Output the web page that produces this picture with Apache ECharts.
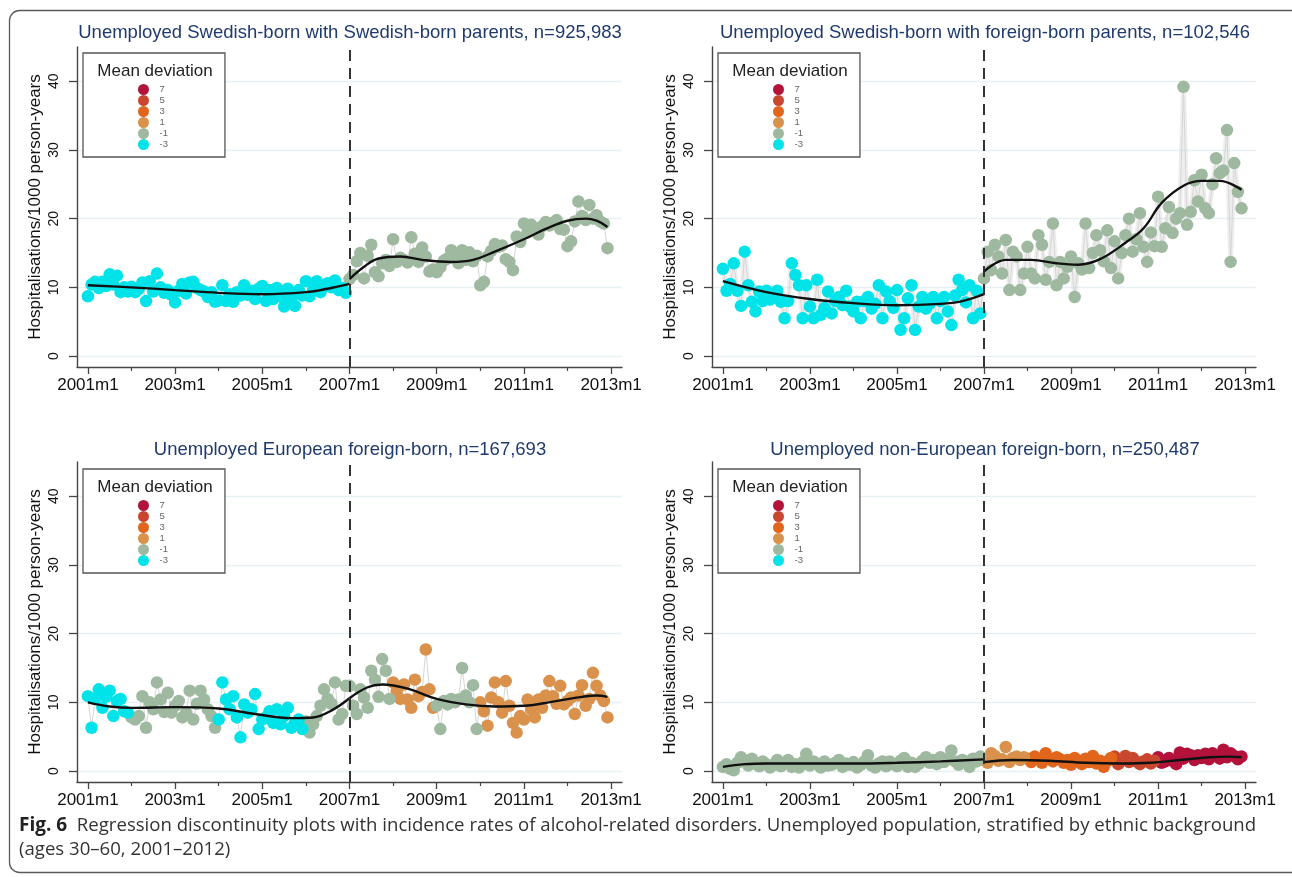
<!DOCTYPE html>
<html><head><meta charset="utf-8">
<script src="https://cdn.jsdelivr.net/npm/echarts@6/dist/echarts.min.js"></script>
<style>html,body{margin:0;padding:0;background:#fff}#c{width:1292px;height:877px}</style>
</head><body><div id="c"></div>
<script>
// ---------- tick labels / categories ----------
const tickLabels = ['2001m1','2003m1','2005m1','2007m1','2009m1','2011m1','2013m1'];
const tickMonths = [0,24,48,72,96,120,144];
const minorMonths = [12,36,60,84,108,132];
const yTicks = [0,10,20,30,40];
const cutoffMonth = 72;
const devLevels = ['7','5','3','1','-1','-3'];
const devColors = ['#b3123b','#c9472e','#e1661c','#d9914b','#9eb99f','#00e3e8'];
const yName = 'Hospitalisations/1000 person-years';
const panelTitles = [
  'Unemployed Swedish-born with Swedish-born parents, n=925,983',
  'Unemployed Swedish-born with foreign-born parents, n=102,546',
  'Unemployed European foreign-born, n=167,693',
  'Unemployed non-European foreign-born, n=250,487'
];

// ---------- panel 1: Swedish-born, Swedish-born parents ----------
const tlValues = [
 8.7,10.4,10.8,9.9,10.8,10.2,11.9,10.4,11.7,9.3,10.0,9.4,
 10.1,9.3,9.8,10.7,8.0,10.9,9.4,12.0,10.0,9.2,9.6,8.9,
 7.8,9.5,10.5,9.1,10.7,10.8,9.9,9.6,9.4,8.6,9.3,7.9,
 8.1,10.3,8.0,9.0,7.9,9.3,8.8,10.3,8.9,9.5,8.3,9.8,
 10.2,8.0,9.6,8.3,9.9,8.7,7.2,9.8,8.3,7.3,9.6,8.8,
 10.9,8.7,9.6,10.9,9.3,10.1,10.6,10.0,11.0,9.6,9.9,9.2,
 11.2,11.8,13.8,15.0,11.3,14.6,16.2,12.2,11.6,13.5,14.0,13.1,
 17.0,13.7,14.3,14.0,13.6,17.3,14.9,13.7,15.8,14.5,12.3,12.6,
 12.2,12.9,13.9,14.2,15.4,14.5,13.5,15.4,14.0,15.1,13.8,14.6,
 10.3,10.8,14.5,15.3,16.3,15.9,16.1,14.1,13.7,12.5,17.4,16.6,
 19.3,18.0,19.1,18.6,17.7,18.9,19.5,19.0,19.4,19.8,18.5,18.4,
 16.0,16.7,19.6,22.5,20.4,19.8,22.0,20.0,20.5,19.6,19.3,15.7];
const tlYearDev = ['-3','-3','-3','-3','-3','-3','-1','-1','-1','-1','-1','-1'];
const tlFitPre = [[0,10.3],[12,10.0],[24,9.6],[36,9.2],[48,9.0],[60,9.3],[66,9.8],[72,10.5]];
const tlFitPost = [[72,11.2],[76,13.0],[80,14.2],[86,14.5],[92,14.0],[100,13.7],[106,14.0],[112,15.2],[120,17.0],[126,18.5],[132,19.7],[137,20.0],[140,19.7],[143,18.8]];

// ---------- panel 2: Swedish-born, foreign-born parents ----------
const trValues = [
 12.7,9.5,10.5,13.5,9.5,7.3,15.2,10.3,7.9,6.5,9.4,8.0,
 9.5,8.2,9.0,9.5,7.9,5.5,8.0,13.5,11.8,10.3,5.5,10.3,
 7.2,5.5,11.1,6.0,7.0,9.4,6.2,8.0,8.6,7.4,9.5,7.2,
 6.5,7.9,5.5,8.0,8.6,6.9,7.6,10.3,5.5,9.4,8.0,7.0,
 9.6,3.8,5.5,8.4,10.3,3.8,7.2,8.6,6.9,7.6,8.6,5.5,
 8.0,8.6,6.5,4.5,8.8,11.1,9.6,7.8,10.3,5.5,9.5,6.2,
 11.3,15.2,12.5,16.2,14.5,12.0,16.9,9.6,15.2,14.5,9.6,12.0,
 15.9,12.0,11.3,17.6,16.2,11.1,13.7,19.3,10.3,13.7,11.3,13.0,
 14.5,8.6,13.5,12.6,19.3,12.8,15.0,17.6,15.4,13.8,18.3,12.8,
 16.7,11.3,15.0,17.6,20.0,15.2,17.0,20.8,15.9,13.7,18.0,16.0,
 23.2,15.9,18.6,21.7,17.9,20.0,20.8,39.2,19.1,21.0,25.6,22.5,
 26.4,21.5,20.8,25.0,28.8,26.6,27.0,32.9,13.7,28.1,23.9,21.5];
const trYearDev = ['-3','-3','-3','-3','-3','-3','-1','-1','-1','-1','-1','-1'];
const trFitPre = [[0,10.9],[12,9.3],[24,8.3],[36,7.7],[48,7.4],[60,7.6],[66,8.0],[72,9.0]];
const trFitPost = [[72,12.3],[78,14.0],[85,14.0],[92,13.5],[98,13.3],[104,14.1],[111,16.5],[116,18.6],[121,22.3],[127,24.8],[132,25.5],[137,25.5],[143,24.2]];

// ---------- panel 3: European foreign-born ----------
const blValues = [
 10.9,6.3,10.6,11.9,9.2,10.8,11.7,8.0,10.2,10.5,8.7,8.5,
 7.8,7.5,8.0,10.9,6.3,10.0,9.0,12.9,10.4,8.6,11.4,8.5,
 9.5,10.2,7.8,8.5,11.7,7.5,9.8,11.7,10.4,9.0,8.0,6.3,
 7.5,12.9,10.4,9.0,10.9,7.8,4.9,9.7,8.5,9.0,11.2,6.1,
 7.5,7.8,8.7,7.0,9.0,6.8,8.0,9.2,6.3,7.0,7.5,6.1,
 7.2,5.6,6.8,8.0,9.5,11.9,10.5,9.8,12.9,7.5,8.3,12.4,
 12.4,9.5,8.3,11.9,10.7,9.2,14.6,13.3,10.8,16.3,14.6,10.5,
 12.9,11.7,10.5,12.6,10.4,9.2,13.3,10.9,11.5,17.7,11.9,9.2,
 9.5,6.1,10.2,9.7,10.5,10.0,10.4,15.0,11.0,10.0,12.5,6.1,
 10.0,8.7,6.6,10.7,12.9,10.0,8.5,13.1,9.5,7.0,5.6,8.0,
 7.5,10.4,9.0,7.8,10.4,9.2,11.0,13.1,10.9,9.8,12.4,9.7,
 10.2,10.7,8.3,11.0,12.5,9.5,10.5,14.3,12.4,11.0,10.2,7.8];
const blYearDev = ['-3','-1','-1','-3','-3','-1','-1','1','-1','1','1','1'];
const blFitPre = [[0,10.0],[6,9.4],[12,9.2],[24,9.3],[36,9.1],[46,8.3],[56,7.7],[62,7.8],[67,8.8],[72,10.6]];
const blFitPost = [[72,10.6],[77,12.2],[81,12.6],[88,12.0],[96,10.5],[104,9.7],[112,9.4],[120,9.5],[128,10.1],[136,10.8],[140,11.0],[143,10.8]];

// ---------- panel 4: non-European foreign-born ----------
const brValues = [
 0.6,1.0,0.3,0.1,1.2,2.0,1.5,0.8,1.8,1.1,0.7,1.4,
 1.0,0.5,0.9,1.6,0.7,1.2,1.6,0.6,1.0,0.5,1.3,2.5,
 0.8,1.4,1.0,0.5,1.4,0.8,0.9,1.2,1.6,0.6,1.1,0.9,
 1.3,0.5,0.9,1.4,2.3,0.8,0.5,1.1,1.4,0.7,1.4,1.0,
 0.7,1.5,1.9,0.6,1.2,0.6,1.0,1.5,2.0,1.2,1.6,1.0,
 2.0,1.3,1.7,3.0,1.4,0.9,1.6,1.4,0.6,1.8,1.4,2.1,
 1.6,1.2,2.6,2.2,1.5,1.7,3.5,1.3,1.9,2.1,1.6,2.0,
 1.8,1.3,2.1,1.7,1.2,2.6,1.8,1.4,2.0,1.7,1.2,1.6,
 0.9,1.9,1.4,1.0,1.8,1.3,2.2,1.1,1.5,0.6,1.4,1.9,
 2.1,1.0,1.6,2.2,1.3,1.9,1.4,1.0,1.4,1.7,1.1,1.5,
 2.0,1.2,1.4,1.9,1.5,1.0,2.7,1.8,2.5,2.3,1.6,2.3,
 1.9,2.5,1.7,2.6,2.2,1.8,3.1,2.0,2.6,2.2,1.7,2.1];
const brYearDev = ['-1','-1','-1','-1','-1','-1','1','3','3','5','7','7'];
const brFitPre = [[0,0.6],[6,1.0],[12,1.1],[24,1.1],[36,1.1],[48,1.2],[60,1.4],[72,1.7]];
const brFitPost = [[72,1.3],[80,1.6],[90,1.5],[100,1.2],[110,1.1],[118,1.2],[126,1.6],[134,2.0],[140,2.1],[143,2.0]];

// ---------- layout (positions / styles only) ----------
const FONT = '"Liberation Sans", Arial, sans-serif';
const CAPFONT = '"Open Sans", "Noto Sans", sans-serif';
const panels = [
  {values: tlValues, dev: tlYearDev, pre: tlFitPre, post: tlFitPost, grid:{left:77, top:47, width:545, height:320}, titleX:350, titleY:33, box:{x:83, y:53}, band:false},
  {values: trValues, dev: trYearDev, pre: trFitPre, post: trFitPost, grid:{left:712, top:47, width:544, height:320}, titleX:985, titleY:33, box:{x:718, y:53}, band:true},
  {values: blValues, dev: blYearDev, pre: blFitPre, post: blFitPost, grid:{left:77, top:462, width:545, height:320}, titleX:350, titleY:450, box:{x:83, y:469}, band:false},
  {values: brValues, dev: brYearDev, pre: brFitPre, post: brFitPost, grid:{left:712, top:462, width:544, height:320}, titleX:985, titleY:450, box:{x:718, y:469}, band:false}
];

const axisColor = '#454545';
const grids = [], xAxes = [], yAxes = [], series = [], legends = [], graphics = [];

graphics.push({type:'rect', silent:true, z:-10, shape:{x:9.5, y:10.5, width:1320, height:862, r:10}, style:{fill:'none', stroke:'#5a5a5a', lineWidth:1.3}});

panels.forEach((p, g) => {
  grids.push(Object.assign({containLabel:false}, p.grid));
  xAxes.push({
    type:'value', gridIndex:g, min:-3, max:147, position:'bottom',
    axisLine:{show:true, onZero:false, lineStyle:{color:axisColor, width:1.4}},
    axisTick:{show:true, customValues:tickMonths, length:7, lineStyle:{color:axisColor, width:1.3}},
    axisLabel:{customValues:tickMonths, formatter:(v)=>tickLabels[tickMonths.indexOf(v)], fontSize:17, color:'#111', margin:10, fontFamily:FONT},
    splitLine:{show:false}
  });
  xAxes.push({
    type:'value', gridIndex:g, min:-3, max:147, position:'bottom',
    axisLine:{show:false, onZero:false},
    axisTick:{show:true, customValues:minorMonths, length:4, lineStyle:{color:axisColor, width:1.2}},
    axisLabel:{show:false}, splitLine:{show:false}
  });
  yAxes.push({
    type:'value', gridIndex:g, min:-1.6, max:45,
    axisLine:{show:true, onZero:false, lineStyle:{color:axisColor, width:1.4}},
    axisTick:{show:true, customValues:yTicks, length:8, lineStyle:{color:axisColor, width:1.3}},
    axisLabel:{customValues:yTicks, rotate:90, fontSize:14, color:'#111', margin:16, fontFamily:FONT},
    splitLine:{show:true, lineStyle:{color:'#e7f0f2', width:1.3}},
    name:yName, nameLocation:'middle', nameGap:33,
    nameTextStyle:{fontSize:17, color:'#111', fontFamily:FONT}
  });
  const xi = g*2, yi = g;
  const pts = p.values.map((v,i)=>[i,v]);
  if (p.band) {
    series.push({type:'line', xAxisIndex:xi, yAxisIndex:yi, data:pts, symbol:'none', silent:true, z:1,
      lineStyle:{color:'rgba(200,200,200,0.3)', width:5}});
  }
  series.push({type:'line', xAxisIndex:xi, yAxisIndex:yi, data:pts, symbol:'none', silent:true, z:1,
    lineStyle:{color:'#d6d6d6', width:1},
    markLine:{silent:true, symbol:['none','none'], label:{show:false}, animation:false,
      lineStyle:{color:'#2a2a2a', type:[11,7], width:1.9}, data:[{xAxis:cutoffMonth}]}});
  devLevels.forEach((lv, k) => {
    series.push({type:'scatter', name:lv, xAxisIndex:xi, yAxisIndex:yi, z:2,
      symbolSize:12.5, itemStyle:{color:devColors[k], opacity:1},
      data: pts.filter((d,i)=>p.dev[Math.floor(i/12)]===lv)});
  });
  [p.pre, p.post].forEach(f => {
    series.push({type:'line', xAxisIndex:xi, yAxisIndex:yi, data:f, symbol:'none', smooth:0.4, silent:true, z:3,
      lineStyle:{color:'#111', width:2.4}});
  });
  legends.push({
    orient:'vertical', left:p.box.x, top:p.box.y, padding:[31,57,7,55],
    itemWidth:12, itemHeight:11, itemGap:0, icon:'circle', selectedMode:false,
    borderColor:'#555', borderWidth:1.3, backgroundColor:'#fff',
    textStyle:{fontSize:9.5, color:'#666', lineHeight:11, padding:[0,0,0,5], fontFamily:FONT},
    data: devLevels
  });
  graphics.push({type:'text', x:p.titleX, y:p.titleY, silent:true,
    style:{text:panelTitles[g], fill:'#1f3a6e', fontSize:18.5, fontFamily:FONT, align:'center', verticalAlign:'middle'}});
  graphics.push({type:'text', x:p.box.x+72, y:p.box.y+18, silent:true, z:100,
    style:{text:'Mean deviation', fill:'#222', fontSize:17, fontFamily:FONT, align:'center', verticalAlign:'middle'}});
});

graphics.push({type:'text', x:19, y:826, silent:true,
  style:{text:'{b|Fig. 6}  Regression discontinuity plots with incidence rates of alcohol-related disorders. Unemployed population, stratified by ethnic background',
    rich:{b:{fontWeight:'bold', fontSize:19, fontFamily:CAPFONT, fill:'#222'}},
    fill:'#333', fontSize:18.6, fontFamily:CAPFONT, verticalAlign:'middle'}});
graphics.push({type:'text', x:19, y:850, silent:true,
  style:{text:'(ages 30–60, 2001–2012)', fill:'#333', fontSize:18.6, fontFamily:CAPFONT, verticalAlign:'middle'}});

const chart = echarts.init(document.getElementById('c'), null, {renderer:'canvas'});
chart.setOption({
  animation:false,
  backgroundColor:'#fff',
  grid:grids, xAxis:xAxes, yAxis:yAxes, series:series, legend:legends, graphic:graphics
});
</script></body></html>
